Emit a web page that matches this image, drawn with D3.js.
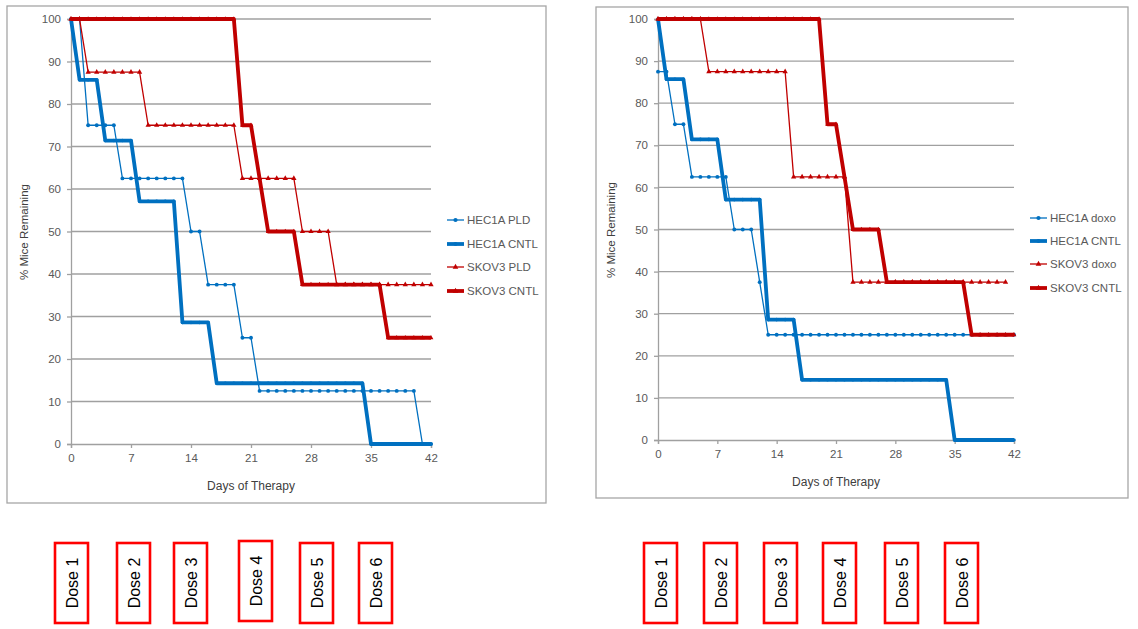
<!DOCTYPE html>
<html>
<head>
<meta charset="utf-8">
<script src="https://cdn.jsdelivr.net/npm/d3@7"></script>
<style>
  body { margin: 0; background: #fff; }
  svg { display: block; font-family: "Liberation Sans", Arial, sans-serif; }
</style>
</head>
<body>
<svg id="out" width="1138" height="629"></svg>
<script>
// days of therapy (categories)
var days = d3.range(0, 43);
var xTicks = [0, 7, 14, 21, 28, 35, 42];
var yTicks = [0, 10, 20, 30, 40, 50, 60, 70, 80, 90, 100];

// left chart: PLD
var hec1aPld = [100,100,75,75,75,75,62.5,62.5,62.5,62.5,62.5,62.5,62.5,62.5,50,50,37.5,37.5,37.5,37.5,25,25,
  12.5,12.5,12.5,12.5,12.5,12.5,12.5,12.5,12.5,12.5,12.5,12.5,12.5,12.5,12.5,12.5,12.5,12.5,12.5,0,0];
var hec1aCntl = [100,85.7,85.7,85.7,71.4,71.4,71.4,71.4,57.1,57.1,57.1,57.1,57.1,28.6,28.6,28.6,28.6,
  14.3,14.3,14.3,14.3,14.3,14.3,14.3,14.3,14.3,14.3,14.3,14.3,14.3,14.3,14.3,14.3,14.3,14.3,0,0,0,0,0,0,0,0];
var skov3Pld = [100,100,87.5,87.5,87.5,87.5,87.5,87.5,87.5,75,75,75,75,75,75,75,75,75,75,75,
  62.5,62.5,62.5,62.5,62.5,62.5,62.5,50,50,50,50,37.5,37.5,37.5,37.5,37.5,37.5,37.5,37.5,37.5,37.5,37.5,37.5];
var skov3Cntl = [100,100,100,100,100,100,100,100,100,100,100,100,100,100,100,100,100,100,100,100,
  75,75,62.5,50,50,50,50,37.5,37.5,37.5,37.5,37.5,37.5,37.5,37.5,37.5,37.5,25,25,25,25,25,25];

// right chart: doxo
var hec1aDoxo = [87.5,87.5,75,75,62.5,62.5,62.5,62.5,62.5,50,50,50,37.5,
  25,25,25,25,25,25,25,25,25,25,25,25,25,25,25,25,25,25,25,25,25,25,25,25,25,25,25,25,25,25];
var skov3Doxo = [100,100,100,100,100,100,87.5,87.5,87.5,87.5,87.5,87.5,87.5,87.5,87.5,87.5,
  62.5,62.5,62.5,62.5,62.5,62.5,62.5,37.5,37.5,37.5,37.5,37.5,37.5,37.5,37.5,37.5,37.5,37.5,37.5,37.5,37.5,37.5,37.5,37.5,37.5,37.5];

var doseLabels = ["Dose 1", "Dose 2", "Dose 3", "Dose 4", "Dose 5", "Dose 6"];

var BLUE = "#0070c0", RED = "#c00000";
var svg = d3.select("#out");

function drawPanel(p) {
  var g = svg.append("g");
  g.append("rect").attr("x", p.box[0]).attr("y", p.box[1])
    .attr("width", p.box[2] - p.box[0]).attr("height", p.box[3] - p.box[1])
    .style("fill", "#fff").style("stroke", "#a6a6a6").style("stroke-width", 1.3);

  var x = d3.scaleLinear().domain([0, 42]).range([p.plot[0], p.plot[1]]);
  var y = d3.scaleLinear().domain([0, 100]).range([p.plot[3], p.plot[2]]);

  // gridlines
  g.selectAll(".grid").data(yTicks.filter(function(d){ return d > 0; })).enter().append("line")
    .attr("x1", p.plot[0]).attr("x2", p.plot[1])
    .attr("y1", function(d){ return y(d); }).attr("y2", function(d){ return y(d); })
    .style("stroke", "#a0a0a0").style("stroke-width", 1.3);

  var ya = g.append("g").attr("transform", "translate(" + p.plot[0] + ",0)")
    .call(d3.axisLeft(y).tickValues(yTicks).tickSize(4).tickPadding(6));
  var xa = g.append("g").attr("transform", "translate(0," + p.plot[3] + ")")
    .call(d3.axisBottom(x).tickValues(xTicks).tickSize(4).tickPadding(6));
  [ya, xa].forEach(function(a) {
    a.select(".domain").style("stroke", "#a0a0a0").style("stroke-width", 1.3);
    a.selectAll(".tick line").style("stroke", "#a0a0a0").style("stroke-width", 1.3);
    a.selectAll("text").style("fill", "#595959").style("font-size", "11.5px");
  });

  g.append("text").attr("transform", "translate(" + p.ytitle[0] + "," + p.ytitle[1] + ") rotate(-90)")
    .attr("text-anchor", "middle").style("font-size", "11.5px").style("fill", "#404040")
    .text("% Mice Remaining");
  g.append("text").attr("x", p.xtitle[0]).attr("y", p.xtitle[1])
    .attr("text-anchor", "middle").style("font-size", "12px").style("fill", "#404040")
    .text("Days of Therapy");

  var line = d3.line().x(function(d, i){ return x(days[i]); }).y(function(d){ return y(d); });

  p.series.forEach(function(s) {
    g.append("path").datum(s.values).attr("d", line)
      .style("fill", "none").style("stroke", s.color).style("stroke-width", s.width)
      .style("stroke-linejoin", "round");
    var sym = d3.symbol().type(s.color === RED ? d3.symbolTriangle : d3.symbolCircle).size(s.width > 2 ? 10 : 12);
    g.selectAll(null).data(s.values).enter().append("path")
      .attr("d", sym)
      .attr("transform", function(d, i){ return "translate(" + x(days[i]) + "," + y(d) + ")"; })
      .style("fill", s.color);
  });

  // legend
  p.series.forEach(function(s, i) {
    var ly = p.legend.rows[i];
    g.append("line").attr("x1", p.legend.x).attr("x2", p.legend.x + 17)
      .attr("y1", ly).attr("y2", ly)
      .style("stroke", s.color).style("stroke-width", s.width);
    g.append("path").attr("d", d3.symbol().type(s.color === RED ? d3.symbolTriangle : d3.symbolCircle).size(14))
      .attr("transform", "translate(" + (p.legend.x + 8.5) + "," + ly + ")").style("fill", s.color);
    g.append("text").attr("x", p.legend.x + 20).attr("y", ly + 4)
      .style("font-size", "11.5px").style("fill", "#595959").text(s.name);
  });

  // dose boxes
  var dg = svg.append("g");
  doseLabels.forEach(function(lbl, i) {
    var bx = p.doses[i], by = (p.doseTop && p.doseTop[i]) || 543;
    dg.append("rect").attr("x", bx).attr("y", by).attr("width", 33).attr("height", 80)
      .style("fill", "#fff").style("stroke", "#ff0000").style("stroke-width", 2.6);
    dg.append("text").attr("transform", "translate(" + (bx + 17 + 6) + "," + (by + 40) + ") rotate(-90)")
      .attr("text-anchor", "middle").style("font-size", "16px").style("fill", "#000")
      .style("font-family", "'Liberation Sans', Arial, sans-serif")
      .text(lbl);
  });
}

drawPanel({
  box: [7, 6, 546, 503], plot: [71, 431, 19, 444],
  ytitle: [28, 232], xtitle: [251, 490],
  series: [
    { name: "HEC1A PLD", values: hec1aPld, color: BLUE, width: 1.3 },
    { name: "HEC1A CNTL", values: hec1aCntl, color: BLUE, width: 3.8 },
    { name: "SKOV3 PLD", values: skov3Pld, color: RED, width: 1.3 },
    { name: "SKOV3 CNTL", values: skov3Cntl, color: RED, width: 3.8 }
  ],
  legend: { x: 447, rows: [220, 244, 267, 291] },
  doses: [55, 117, 174, 239, 300, 359],
  doseTop: [543, 543, 543, 541, 543, 543]
});

drawPanel({
  box: [596, 7, 1128, 498], plot: [658, 1014, 19, 440],
  ytitle: [615, 230], xtitle: [836, 486],
  series: [
    { name: "HEC1A doxo", values: hec1aDoxo, color: BLUE, width: 1.3 },
    { name: "HEC1A CNTL", values: hec1aCntl, color: BLUE, width: 3.8 },
    { name: "SKOV3 doxo", values: skov3Doxo, color: RED, width: 1.3 },
    { name: "SKOV3 CNTL", values: skov3Cntl, color: RED, width: 3.8 }
  ],
  legend: { x: 1030, rows: [218, 241, 264, 288] },
  doses: [644, 704, 764, 823, 885, 945]
});
</script>
</body>
</html>
